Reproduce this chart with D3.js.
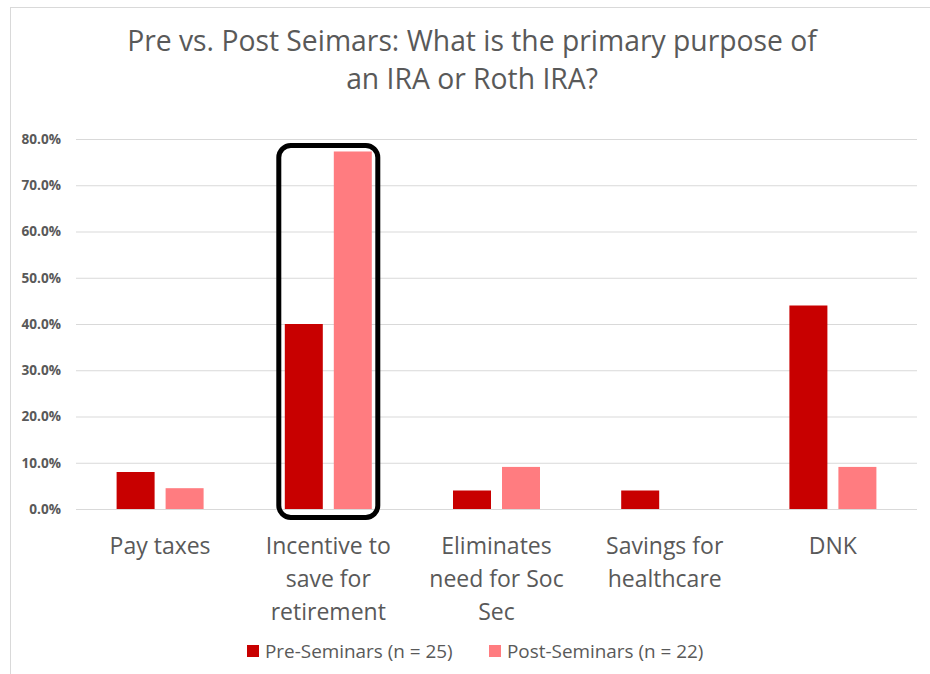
<!DOCTYPE html>
<html>
<head>
<meta charset="utf-8">
<script src="https://cdn.jsdelivr.net/npm/d3@7"></script>
<style>
  body { margin: 0; background: #fff; }
  text { font-family: "Open Sans", sans-serif; fill: #595959; }
</style>
</head>
<body>
<div id="chart"></div>
<script>
// data
var categories = [["Pay taxes"], ["Incentive to", "save for", "retirement"], ["Eliminates", "need for Soc", "Sec"], ["Savings for", "healthcare"], ["DNK"]];
var preValues = [0.08, 0.40, 0.04, 0.04, 0.44];
var postValues = [0.045, 0.773, 0.091, 0, 0.091];
var seriesNames = ["Pre-Seminars (n = 25)", "Post-Seminars (n = 22)"];
var yTicks = [0, 0.1, 0.2, 0.3, 0.4, 0.5, 0.6, 0.7, 0.8];
var titleLines = ["Pre vs. Post Seimars: What is the primary purpose of", "an IRA or Roth IRA?"];
var highlighted = 1; // boxed category

var w = 930, h = 674;
var plotLeft = 76, plotRight = 917, plotTop = 139, plotBottom = 509;
var colors = ["#c80000", "#ff7c80"];

var svg = d3.select("#chart").append("svg")
    .attr("width", w)
    .attr("height", h);

// chart frame
svg.append("rect")
    .attr("x", 10.5).attr("y", 7.5)
    .attr("width", w + 10).attr("height", h + 10)
    .attr("fill", "none")
    .attr("stroke", "#d9d9d9");

// title
svg.append("g").selectAll("text")
    .data(titleLines)
    .enter().append("text")
    .attr("x", 472)
    .attr("y", function(d, i) { return 51 + i * 38; })
    .attr("text-anchor", "middle")
    .style("font-size", "28.3px")
    .text(function(d) { return d; });

var xScale = d3.scaleBand()
    .domain(d3.range(categories.length))
    .range([plotLeft, plotRight]);

var yScale = d3.scaleLinear()
    .domain([0, 0.8])
    .range([plotBottom, plotTop]);

// gridlines + y labels
var yAxis = d3.axisLeft(yScale)
    .tickValues(yTicks)
    .tickFormat(d3.format(".1%"))
    .tickSize(-(plotRight - plotLeft))
    .tickPadding(15);

var gy = svg.append("g")
    .attr("transform", "translate(" + plotLeft + ",0)")
    .call(yAxis);
gy.select(".domain").remove();
gy.selectAll(".tick line").attr("stroke", "#d9d9d9").attr("stroke-width", 1);
gy.selectAll(".tick text")
    .style("font-size", "13.6px")
    .style("font-weight", "bold")
    .attr("fill", "#595959");

// bars
var barW = 38, gap = 11;
var series = [preValues, postValues];
series.forEach(function(vals, s) {
    svg.append("g").selectAll("rect")
        .data(vals)
        .enter().append("rect")
        .attr("x", function(d, i) {
            var c = xScale(i) + xScale.bandwidth() / 2;
            return s === 0 ? c - gap / 2 - barW : c + gap / 2;
        })
        .attr("y", function(d) { return yScale(d); })
        .attr("width", barW)
        .attr("height", function(d) { return plotBottom - yScale(d); })
        .attr("fill", colors[s]);
});

// highlight box
var hc = xScale(highlighted) + xScale.bandwidth() / 2;
svg.append("rect")
    .attr("x", hc - 49.5)
    .attr("y", yScale(0.773) - 6)
    .attr("width", 99)
    .attr("height", plotBottom - yScale(0.773) + 14.5)
    .attr("rx", 12)
    .attr("fill", "none")
    .attr("stroke", "#000")
    .attr("stroke-width", 5);

// x labels
var gx = svg.append("g");
categories.forEach(function(lines, i) {
    gx.append("text")
        .attr("text-anchor", "middle")
        .style("font-size", "23px")
        .selectAll("tspan")
        .data(lines)
        .enter().append("tspan")
        .attr("x", xScale(i) + xScale.bandwidth() / 2)
        .attr("y", function(d, j) { return 554 + j * 33; })
        .text(function(d) { return d; });
});

// legend
var legendX = [247, 489];
seriesNames.forEach(function(name, s) {
    var g = svg.append("g").attr("transform", "translate(" + legendX[s] + ",645)");
    g.append("rect")
        .attr("width", 12).attr("height", 12)
        .attr("fill", colors[s]);
    g.append("text")
        .attr("x", 18).attr("y", 13)
        .style("font-size", "18.9px")
        .text(name);
});
</script>
</body>
</html>
